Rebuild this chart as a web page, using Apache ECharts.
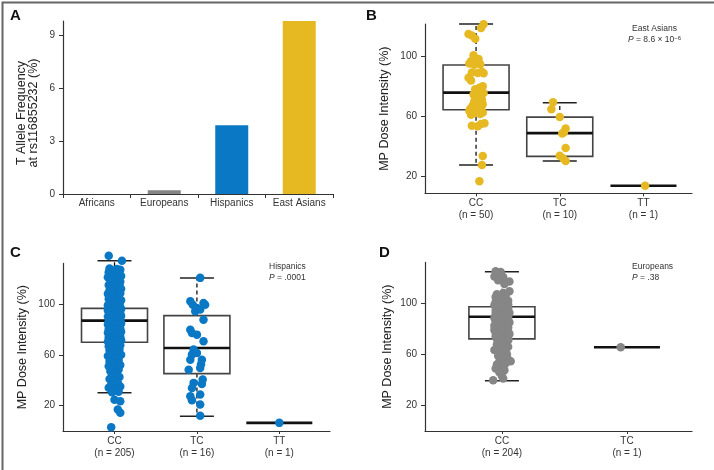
<!DOCTYPE html>
<html>
<head>
<meta charset="utf-8">
<script src="https://cdn.jsdelivr.net/npm/echarts@6/dist/echarts.min.js"></script>
<style>
  html, body { margin: 0; padding: 0; background: #fff; }
  #main { width: 714px; height: 470px; }
</style>
</head>
<body>
<div id="main"></div>
<script>
// panel A: allele frequency by population
var popNames = ['Africans', 'Europeans', 'Hispanics', 'East Asians'];
var alleleFreq = [0, 0.21, 3.89, 9.81];
var freqTicks = [0, 3, 6, 9];

// dose intensity ticks (B, C, D)
var doseTicks = [20, 60, 100];

// panel B: East Asians
var eaGroups = ['CC', 'TC', 'TT'];
var eaN = [50, 10, 1];
// [lower whisker, Q1, median, Q3, upper whisker]
var eaBoxes = [[27.7, 64.4, 75.7, 94.0, 121.2], [30.4, 33.5, 48.9, 59.5, 69.0], [14, 14, 14, 14, 14]];
// points: [jitter, value]
var eaCC = [[0.09,121.0],[0.06,118.5],[-0.09,114.5],[-0.05,113.5],[-0.01,111.5],[-0.03,100.5],[0.03,98.0],[-0.06,96.5],
  [0.0,95.5],[-0.08,95.0],[0.05,94.5],[-0.02,94.2],[0.07,89.5],[-0.05,89.0],[0.02,88.8],[0.09,88.5],[-0.09,85.5],
  [-0.06,83.8],[0.08,80.0],[0.04,79.0],[-0.01,78.0],[0.06,77.0],[0.02,76.2],[0.09,75.5],[-0.03,74.5],[0.05,73.2],
  [0.01,72.5],[0.07,71.0],[-0.02,70.0],[0.04,69.0],[0.08,68.0],[-0.04,67.2],[0.03,66.5],[0.06,65.8],[-0.07,65.0],
  [0.0,64.8],[0.05,64.5],[-0.08,63.5],[0.02,63.0],[0.08,62.5],[-0.03,62.0],[0.05,61.5],[-0.06,61.0],[0.1,55.5],
  [-0.05,53.8],[0.02,53.5],[0.06,55.0],[0.08,33.7],[0.07,27.7],[0.04,17.0]];
var eaTC = [[-0.08,69.3],[-0.1,64.7],[0.0,59.5],[0.07,52.0],[0.03,48.7],[0.05,49.5],[0.07,39.0],[0.0,33.9],[0.04,32.2],[0.07,30.4]];
var eaTT = [[0.02,14.0]];

// panel C: Hispanics
var hiGroups = ['CC', 'TC', 'TT'];
var hiN = [205, 16, 1];
var hiBoxes = [[30.2, 69.9, 86.9, 96.6, 134.0], [11.6, 45.2, 65.4, 90.9, 120.5], [6.4, 6.4, 6.4, 6.4, 6.4]];
var hiCC = [[-0.07,138],[0.09,134],
  [-0.06,128],[0.03,127.5],[0.07,127],[-0.02,126.5],[0.05,125.5],[-0.07,125],[0.01,124],[0.06,123.5],[-0.04,122.5],
  [0.08,122],[-0.08,121],[0.0,120],[0.04,119.5],[-0.05,118.5],[0.07,117.5],[-0.01,117],[0.03,116],[-0.07,115],
  [0.06,114.5],[-0.03,113.5],[0.01,112.5],[0.08,112],[-0.06,111],[0.04,110],[-0.02,109.5],[0.07,108.5],[-0.08,108],
  [0.02,107],[-0.04,106],[0.05,105.5],[0.0,104.5],[-0.07,104],[0.08,103],[-0.02,102.5],[0.04,101.5],[-0.05,101],
  [0.06,100],[0.01,99.5],[-0.08,99],[0.03,98.5],[-0.03,98],[0.07,97.5],[-0.06,97.2],[0.0,97],[0.05,96.8],
  [-0.07,96.5],[0.02,96.2],[0.08,96],[-0.03,95.6],[0.04,95.3],[-0.08,95],[0.0,94.6],[0.06,94.2],[-0.05,93.8],
  [0.03,93.4],[-0.01,93],[0.07,92.6],[-0.06,92.2],[0.01,91.8],[0.05,91.4],[-0.03,91],[0.08,90.6],[-0.08,90.2],
  [0.02,89.8],[-0.02,89.4],[0.06,89],[-0.06,88.6],[0.04,88.2],[0.0,87.8],[-0.04,87.4],[0.07,87],[-0.07,86.6],
  [0.02,86.2],[-0.01,85.8],[0.05,85.4],[-0.05,85],[0.08,84.6],[0.0,84.2],[-0.08,83.8],[0.03,83.4],[-0.02,83],
  [0.06,82.6],[-0.06,82.2],[0.01,81.8],[0.04,81.4],[-0.04,81],[0.07,80.6],[-0.07,80.2],[0.02,79.8],[-0.01,79.4],
  [0.05,79],[-0.05,78.6],[0.08,78.2],[0.0,77.8],[-0.08,77.4],[0.03,77],[-0.03,76.6],[0.06,76.2],[-0.06,75.8],
  [0.01,75.4],[0.04,75],[-0.02,74.6],[0.07,74.2],[-0.07,73.8],[0.02,73.4],[-0.04,73],[0.05,72.6],[0.0,72.2],
  [-0.06,71.8],[0.08,71.4],[-0.01,71],[0.03,70.6],[-0.08,70.4],[0.06,70.2],[-0.03,70],
  [0.05,69.5],[-0.05,69],[0.01,68.2],[0.07,67.5],[-0.07,66.8],[0.03,66],[-0.02,65.2],[0.06,64.4],[-0.06,63.6],
  [0.0,62.8],[0.04,62],[-0.04,61],[0.08,60],[-0.08,59],[0.02,58],[-0.01,57],[0.05,56],[-0.06,55],[0.03,54],
  [-0.03,53],[0.07,52],[-0.07,51],[0.01,50],[0.05,48.5],[-0.05,47],[0.02,45.5],[-0.02,44],[0.06,42.5],[-0.06,41],
  [0.0,39.5],[0.04,38],[-0.04,36.5],[0.07,35],[-0.07,34],[0.02,33],[-0.01,32],[0.05,31],[-0.03,30.5],
  [0.0,24.7],[0.07,23.4],[0.04,16.9],[0.07,14.3],[-0.04,3]];
var hiTC = [[0.04,120.6],[-0.08,102.1],[-0.05,99.5],[0.08,100.9],[0.0,96.9],[-0.02,94.3],[0.04,95.6],[0.1,99.5],
  [0.08,87.7],[-0.08,79.8],[-0.06,77.2],[0.0,75.9],[0.08,70.6],[-0.04,64.1],[0.0,61.5],[-0.06,60.2],[-0.08,56.2],
  [0.06,56.2],[0.05,52.5],[-0.1,48.3],[0.04,49.7],[-0.04,37.9],[0.07,40.5],[-0.06,33.9],[-0.08,27.3],[0.04,28.7],
  [-0.06,24.2],[0.04,20.8],[0.04,12.1],[0.06,37.0]];
var hiTT = [[0.0,6.4]];

// panel D: Europeans
var euGroups = ['CC', 'TC'];
var euN = [204, 1];
var euBoxes = [[39.3, 72.1, 89.5, 97.3, 124.7], [65.6, 65.6, 65.6, 65.6, 65.6]];
var euCC = [[-0.05,125],[-0.01,124.5],[-0.03,123],[-0.06,121],[0.01,120.5],[-0.03,118],[0.06,117],[0.02,115],
  [0.06,109.5],[0.01,108],[-0.04,107],[0.03,106],[-0.05,105],[0.02,104],[-0.02,103],[0.05,102],[-0.05,101],[0.0,100.5],
  [0.04,100],[-0.03,99.5],[0.05,99],[-0.06,98.5],[0.02,98],[-0.01,97.5],[0.04,97.3],
  [-0.04,97],[0.02,96.5],[0.05,96],[-0.02,95.5],[0.0,95],[0.04,94.5],[-0.05,94],[0.03,93.5],[-0.03,93],[0.06,92.5],
  [0.01,92],[-0.05,91.5],[0.04,91],[-0.01,90.5],[0.05,90],[-0.04,89.5],[0.02,89],[-0.06,88.5],[0.05,88],[0.0,87.5],
  [-0.02,87],[0.03,86.5],[-0.05,86],[0.02,85.5],[0.06,85],[-0.01,84.5],[-0.04,84],[0.04,83.5],[0.01,83],[-0.06,82.5],
  [0.03,82],[-0.02,81.5],[0.05,81],[0.0,80.5],[-0.04,80],[0.04,79.5],[-0.06,79],[0.01,78.5],[0.05,78],[-0.01,77.5],
  [-0.05,77],[0.03,76.5],[0.06,76],[-0.03,75.5],[0.01,75],[0.04,74.5],[-0.05,74],[0.02,73.5],[-0.01,73],[0.05,72.5],
  [-0.04,72.2],[0.02,71.5],[0.05,71],[-0.02,70],[0.04,69],[-0.04,68],[0.01,67],[0.05,66],[-0.02,65],[-0.06,63.5],
  [0.03,62.5],[0.0,61],[0.04,60],[-0.03,59],[0.02,57.5],[0.05,56],[-0.02,54.5],[0.07,54.7],[0.03,53],[-0.04,52],
  [0.01,50.5],[-0.05,48.9],[0.02,47.5],[-0.02,46],[0.0,43],[0.01,41.1],[-0.07,39.8]];
var euTC = [[-0.05,65.6]];

var FONT = '"Liberation Sans", Arial, Helvetica, sans-serif';
var popColors = ['#7f7f7f', '#858585', '#0a78c4', '#e6b922'];
var GOLD = '#e6b922', BLUE = '#0a78c4', GREY = '#868686';

var chart = echarts.init(document.getElementById('main'), null, { renderer: 'canvas' });

function axisLineStyle() {
    return { show: true, lineStyle: { color: '#333', width: 1.2 } };
}

function toPoints(groupPts) {
    var out = [];
    groupPts.forEach(function (pts, gi) {
        pts.forEach(function (p) { out.push([gi + 1 + p[0], p[1]]); });
    });
    return out;
}

function renderBox(params, api) {
    var x = api.value(0);
    var lo = api.value(1), q1 = api.value(2), med = api.value(3), q3 = api.value(4), hi = api.value(5);
    var cx = api.coord([x, med])[0];
    var yLo = api.coord([x, lo])[1], yQ1 = api.coord([x, q1])[1], yMed = api.coord([x, med])[1];
    var yQ3 = api.coord([x, q3])[1], yHi = api.coord([x, hi])[1];
    var half = 33, cap = 17;
    var kids = [];
    if (hi > lo) {
        var dash = { stroke: '#111', lineWidth: 1.3, lineDash: [4, 3] };
        var solid = { stroke: '#222', lineWidth: 1.5 };
        kids.push({ type: 'line', shape: { x1: cx, y1: yQ3, x2: cx, y2: yHi }, style: dash });
        kids.push({ type: 'line', shape: { x1: cx, y1: yQ1, x2: cx, y2: yLo }, style: dash });
        kids.push({ type: 'line', shape: { x1: cx - cap, y1: yHi, x2: cx + cap, y2: yHi }, style: solid });
        kids.push({ type: 'line', shape: { x1: cx - cap, y1: yLo, x2: cx + cap, y2: yLo }, style: solid });
        kids.push({ type: 'rect', shape: { x: cx - half, y: yQ3, width: 2 * half, height: yQ1 - yQ3 },
            style: { fill: 'rgba(255,255,255,0)', stroke: '#444', lineWidth: 1.6 } });
    }
    kids.push({ type: 'line', shape: { x1: cx - half, y1: yMed, x2: cx + half, y2: yMed },
        style: { stroke: '#111', lineWidth: 2.6 } });
    return { type: 'group', children: kids };
}

var grids = [
    { left: 63, top: 21, width: 270, height: 173 },
    { left: 425, top: 24, width: 267, height: 169.3 },
    { left: 63, top: 263.4, width: 267, height: 167.6 },
    { left: 425, top: 262.4, width: 267, height: 168.6 }
];

var xAxes = [], yAxes = [], series = [];

// panel A axes
xAxes.push({
    gridIndex: 0, type: 'category', data: popNames,
    axisLine: axisLineStyle(),
    axisTick: { show: true, length: 4, lineStyle: { color: '#333' } },
    axisLabel: { color: '#333', fontSize: 10, fontFamily: FONT, margin: 4, interval: 0 }
});
yAxes.push({
    gridIndex: 0, type: 'value', min: 0, max: 9.8,
    name: 'T Allele Frequency\nat rs116855232 (%)', nameLocation: 'middle', nameGap: 23,
    nameTextStyle: { fontSize: 12.5, color: '#222', fontFamily: FONT, lineHeight: 12.5, padding: [0, 11, 0, 0] },
    axisLine: axisLineStyle(),
    axisTick: { show: true, length: 4, lineStyle: { color: '#333' }, customValues: freqTicks },
    axisLabel: { color: '#333', fontSize: 10, fontFamily: FONT, margin: 8, customValues: freqTicks },
    splitLine: { show: false }
});
series.push({
    type: 'bar', xAxisIndex: 0, yAxisIndex: 0, barWidth: 33,
    data: alleleFreq.map(function (v, i) { return { value: v, itemStyle: { color: popColors[i] } }; })
});

function addBoxPanel(k, groups, ns, boxes, pts, color, xmin, xmax, ymin, ymax, gap) {
    var cats = groups.map(function (g, i) { return i + 1; });
    xAxes.push({
        gridIndex: k, type: 'value', min: xmin, max: xmax,
        axisLine: axisLineStyle(),
        axisTick: { show: true, length: 3, lineStyle: { color: '#333' }, customValues: cats },
        axisLabel: {
            customValues: cats, color: '#333', fontSize: 10, fontFamily: FONT, lineHeight: 12, margin: 4,
            formatter: function (v) {
                var i = Math.round(v) - 1;
                return groups[i] + '\n(n = ' + ns[i] + ')';
            }
        },
        splitLine: { show: false }
    });
    yAxes.push({
        gridIndex: k, type: 'value', min: ymin, max: ymax,
        name: 'MP Dose Intensity (%)', nameLocation: 'middle', nameGap: gap,
        nameTextStyle: { fontSize: 12.5, color: '#222', fontFamily: FONT },
        axisLine: axisLineStyle(),
        axisTick: { show: true, length: 4, lineStyle: { color: '#333' }, customValues: doseTicks },
        axisLabel: { customValues: doseTicks, color: '#333', fontSize: 10, fontFamily: FONT, margin: 8 },
        splitLine: { show: false }
    });
    series.push({
        type: 'custom', xAxisIndex: k, yAxisIndex: k, z: 1, clip: false,
        renderItem: renderBox,
        encode: { x: 0, y: [1, 2, 3, 4, 5] },
        data: boxes.map(function (b, i) { return [i + 1].concat(b); })
    });
    series.push({
        type: 'scatter', xAxisIndex: k, yAxisIndex: k, z: 3, clip: false,
        symbolSize: 8.5, itemStyle: { color: color, opacity: 1 },
        data: toPoints(pts)
    });
}

addBoxPanel(1, eaGroups, eaN, eaBoxes, [eaCC, eaTC, eaTT], GOLD, 0.39, 3.58, 9, 121.2, 34);
addBoxPanel(2, hiGroups, hiN, hiBoxes, [hiCC, hiTC, hiTT], BLUE, 0.375, 3.615, 0, 132, 34);
addBoxPanel(3, euGroups, euN, euBoxes, [euCC, euTC], GREY, 0.385, 2.52, 0, 132, 31);

function letter(txt, x, y) {
    return { type: 'text', left: x, top: y, z: 10,
        style: { text: txt, font: 'bold 15px ' + FONT, fill: '#111' } };
}
// annotation: population name on top, italic P value below
function note(x, y, name, pRest, sup, pShift) {
    var tokens = '{i|P} = ' + pRest + (sup ? '{s|' + sup + '}' : '');
    var shift = pShift || 0;
    return [
        { type: 'text', x: x, y: y, z: 10, style: { text: name, font: '8.5px ' + FONT, fill: '#333' } },
        { type: 'text', x: x - shift, y: y + 11, z: 10, style: {
            text: tokens, font: '8.5px ' + FONT, fill: '#333',
            rich: {
                i: { fontStyle: 'italic', fontSize: 8.5, fontFamily: FONT, fill: '#333' },
                s: { fontSize: 6, fontFamily: FONT, fill: '#333', verticalAlign: 'top', padding: [0, 0, 4, 0] }
            } } }
    ];
}

var graphics = [
    { type: 'rect', left: 0, top: 0, z: 20, silent: true,
      shape: { x: 0, y: 0, width: 713, height: 469 },
      style: { fill: 'none', stroke: '#666', lineWidth: 2 } },
    letter('A', 10, 8),
    letter('B', 366, 8),
    letter('C', 10, 245),
    letter('D', 379, 245)
].concat(
    note(632, 24, 'East Asians', '8.6 \u00d7 10', '\u22126', 4),
    note(269, 262, 'Hispanics', '.0001'),
    note(632, 262, 'Europeans', '.38')
);

var option = {
    animation: false,
    backgroundColor: '#fff',
    grid: grids,
    xAxis: xAxes,
    yAxis: yAxes,
    series: series,
    graphic: graphics
};

chart.setOption(option);
</script>
</body>
</html>
